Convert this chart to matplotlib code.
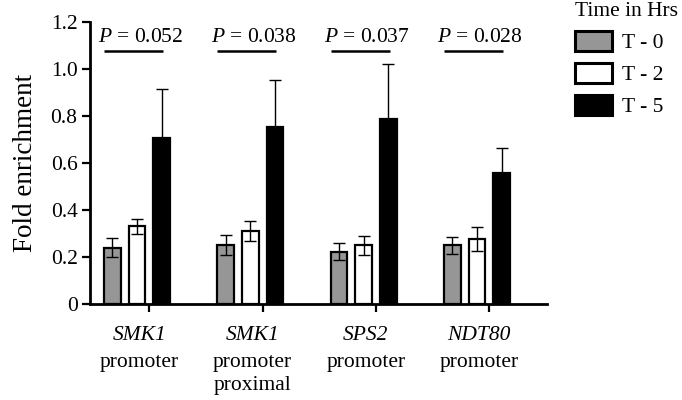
import numpy as np
import matplotlib
matplotlib.use('Agg')
import matplotlib.pyplot as plt

# Data
genes = ['SMK1', 'SMK1', 'SPS2', 'NDT80']
regions = ['promoter', 'promoter\nproximal', 'promoter', 'promoter']
t0 = [0.24, 0.25, 0.222, 0.25]
t0_err = [0.04, 0.043, 0.036, 0.037]
t2 = [0.33, 0.312, 0.25, 0.275]
t2_err = [0.03, 0.043, 0.04, 0.051]
t5 = [0.706, 0.752, 0.788, 0.557]
t5_err = [0.21, 0.2, 0.233, 0.108]
p_values = ['0.052', '0.038', '0.037', '0.028']
series_labels = ['T - 0', 'T - 2', 'T - 5']
yticks = [0, 0.2, 0.4, 0.6, 0.8, 1.0, 1.2]
ytick_labels = ['0', '0.2', '0.4', '0.6', '0.8', '1.0', '1.2']

plt.rcParams['font.family'] = ['Liberation Serif', 'DejaVu Serif']
plt.rcParams['mathtext.fontset'] = 'custom'
plt.rcParams['mathtext.rm'] = 'Liberation Serif'
plt.rcParams['mathtext.it'] = 'Liberation Serif:italic'

fs = 15.5
fig = plt.figure(figsize=(6.82, 4.0), dpi=100)
ax = fig.add_axes([0.132, 0.24, 0.670, 0.705])

x = np.arange(len(genes))
off = 0.217
w = 0.146
colors = ['#969696', 'white', 'black']
err_kw = dict(ecolor='black', elinewidth=1.0, capsize=4, capthick=1.0)

bars = []
for k, (vals, errs) in enumerate([(t0, t0_err), (t2, t2_err), (t5, t5_err)]):
    b = ax.bar(x + (k - 1) * off, vals, w, yerr=errs, color=colors[k],
               edgecolor='black', linewidth=1.6, error_kw=err_kw,
               label=series_labels[k], zorder=2)
    bars.append(b)

# p-value annotations
for i, p in enumerate(p_values):
    ax.plot([x[i] - off - w / 2, x[i] + 0.23], [1.077, 1.077], color='black',
            lw=1.8, solid_capstyle='butt', clip_on=False)
    ax.text(x[i] + 0.03, 1.135, r'$\it{P}$ = ' + p, ha='center', va='center',
            fontsize=fs)

ax.set_ylim(0, 1.2)
ax.set_xlim(-0.415, 3.618)
ax.set_yticks(yticks)
ax.set_yticklabels(ytick_labels, fontsize=fs)
ax.set_ylabel('Fold enrichment', fontsize=19.5, labelpad=9)

# region names as tick labels, gene names in italics above them
ax.set_xticks(x + 0.02)
ax.set_xticklabels(regions, fontsize=fs, linespacing=1.25)
ax.tick_params(axis='x', which='major', length=0, pad=35.5)
for xi, g in zip(x, genes):
    ax.annotate(g, xy=(xi + 0.02, 0), xycoords=('data', 'axes fraction'),
                xytext=(0, -15.5), textcoords='offset points', ha='center',
                va='top', fontsize=fs, fontstyle='italic')
ax.set_xticks(x + off / 2, minor=True)
ax.tick_params(axis='x', which='minor', length=6, width=1.6, direction='out')
ax.tick_params(axis='y', length=6, width=1.6, direction='out', pad=3)

for s in ['top', 'right']:
    ax.spines[s].set_visible(False)
for s in ['left', 'bottom']:
    ax.spines[s].set_linewidth(2.0)

leg = fig.legend(handles=bars, labels=series_labels, loc='upper left',
                 bbox_to_anchor=(0.843, 0.995), frameon=False, fontsize=fs,
                 title='Time in Hrs', title_fontsize=fs, alignment='left',
                 handlelength=1.72, handleheight=1.05, labelspacing=0.45,
                 handletextpad=0.45, borderpad=0, borderaxespad=0)
for h in leg.legend_handles:
    h.set_linewidth(2.2)

fig.savefig('out.png', dpi=100)
